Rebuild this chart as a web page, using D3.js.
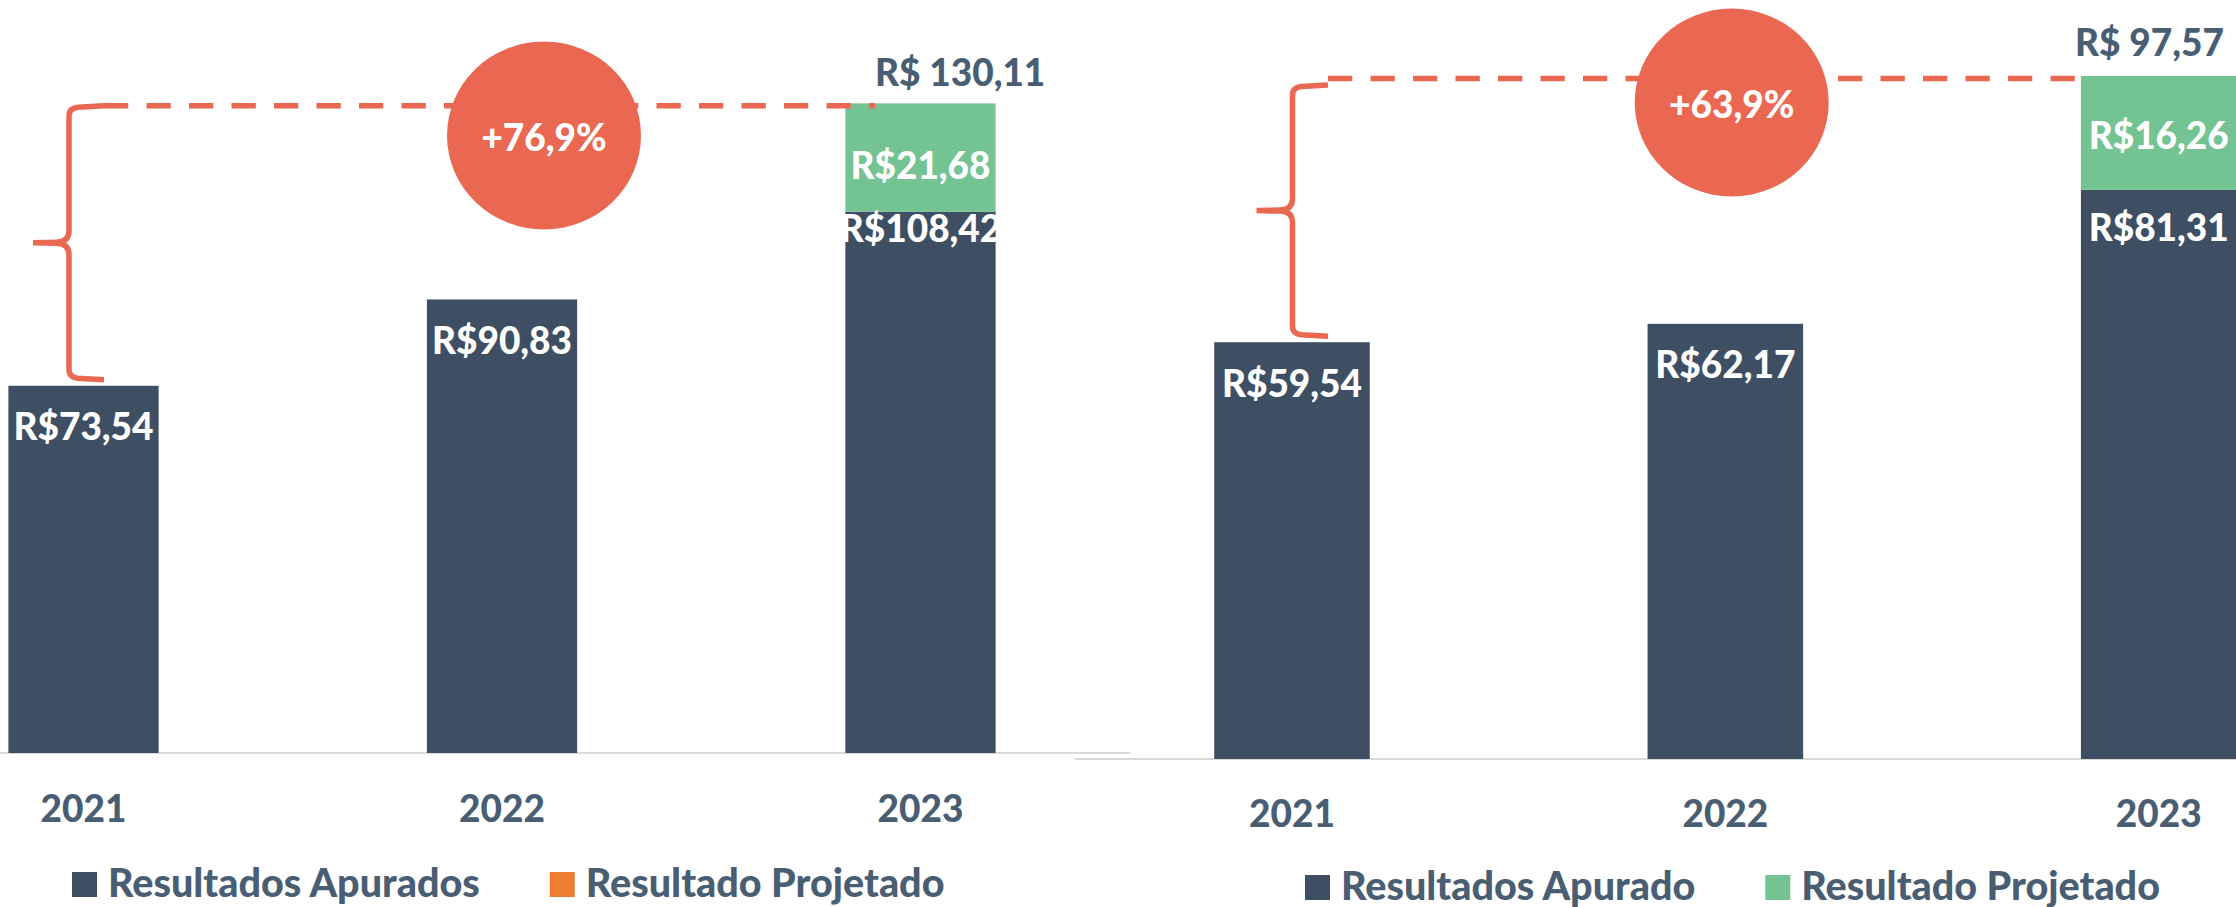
<!DOCTYPE html>
<html>

<head>
	<meta charset="utf-8">
	<title>Resultados Apurados x Projetado</title>
	<script src="https://cdn.jsdelivr.net/npm/d3@7/dist/d3.min.js"></script>
	<style>
		body {
			margin: 0;
			background: #fff;
		}

		svg text {
			font-family: Lato, "Open Sans", sans-serif;
			font-weight: 900;
		}

		.bar-label {
			fill: #fff;
			font-size: 37px;
		}

		.slate {
			fill: #4a5e73;
			font-size: 37px;
		}

		.legend text {
			font-size: 39.5px;
		}

		.baseline {
			stroke: #d9d9d9;
			stroke-width: 2px;
		}

		.note {
			fill: none;
			stroke: #ea6852;
			stroke-width: 5.5px;
		}
	</style>
</head>

<body>
	<svg id="chart" width="2236" height="907"></svg>

	<script>
		// data
		var years = ['2021', '2022', '2023'];

		var apuradosLeft = [73.54, 90.83, 108.42];
		var projetadoLeft = [0, 0, 21.68];
		var totalLeft = 130.11;
		var legendLeft = ['Resultados Apurados', 'Resultado Projetado'];

		var apuradosRight = [59.54, 62.17, 81.31];
		var projetadoRight = [0, 0, 16.26];
		var totalRight = 97.57;
		var legendRight = ['Resultados Apurado', 'Resultado Projetado'];

		var dark = '#3e4f63',
			green = '#73c393',
			red = '#ea6852';

		var br = d3.formatLocale({ decimal: ',', thousands: '.', grouping: [3], currency: ['R$', ''] });
		var money = br.format('.2f'),
			pct = br.format('+.1%');

		var svg = d3.select('#chart');

		// the two panels, each with its own plot area and hand placed notes
		var panels = [
			{
				apurados: apuradosLeft, projetado: projetadoLeft, total: totalLeft, legend: legendLeft,
				legendColors: [dark, '#ed7d31'],
				xRange: [-125.75, 1129.75], yMax: 150, yRange: [753, 4],
				lineX: [0, 1130], yearDy: 69,
				innerDy: [54, 55, 30], projDy: 21.7, totalX: 875, totalDy: -17,
				braceX: 69, braceEnd: 104, braceTopDy: 0,
				dashEnd: 875, circle: [544, 135.5],
				legendX: 72, legendY: 897
			},
			{
				apurados: apuradosRight, projetado: projetadoRight, total: totalRight, legend: legendRight,
				legendColors: [dark, green],
				xRange: [1075.3, 2375.4], yMax: 100, yRange: [759, 59],
				lineX: [1075, 2236], yearDy: 68,
				innerDy: [55, 54, 51], projDy: 16, totalX: 2075, totalDy: -20.5,
				braceX: 1292.5, braceEnd: 1328, braceTopDy: 6.5,
				dashEnd: 2075, circle: [1731.7, 102.5],
				legendX: 1305, legendY: 900
			}
		];

		panels.forEach(drawPanel);

		function drawPanel(p) {
			var rows = years.map((yr, i) => ({ year: yr, apurado: p.apurados[i], projetado: p.projetado[i] }));

			var x = d3.scaleBand()
				.domain(years)
				.range(p.xRange)
				.paddingInner(0.641)
				.paddingOuter(0.3205);

			var y = d3.scaleLinear()
				.domain([0, p.yMax])
				.range(p.yRange);

			var stacked = d3.stack().keys(['apurado', 'projetado'])(rows);
			var base = y(0);

			var g = svg.append('g');

			g.append('line')
				.attr('class', 'baseline')
				.attr('x1', p.lineX[0]).attr('x2', p.lineX[1])
				.attr('y1', base).attr('y2', base);

			g.selectAll('g.series')
				.data(stacked)
				.enter()
				.append('g')
				.attr('fill', (d, i) => i == 0 ? dark : green)
				.selectAll('rect')
				.data(d => d.filter(s => s[1] > s[0]))
				.enter()
				.append('rect')
				.attr('x', d => x(d.data.year))
				.attr('width', x.bandwidth())
				.attr('y', d => y(d[1]))
				.attr('height', d => y(d[0]) - y(d[1]));

			// labels inside the bars
			g.selectAll('text.apurado')
				.data(rows)
				.enter()
				.append('text')
				.attr('class', 'bar-label')
				.attr('text-anchor', 'middle')
				.attr('x', d => x(d.year) + x.bandwidth() / 2)
				.attr('y', (d, i) => y(d.apurado) + p.innerDy[i])
				.text(d => 'R$' + money(d.apurado));

			g.selectAll('text.projetado')
				.data(rows.filter(d => d.projetado > 0))
				.enter()
				.append('text')
				.attr('class', 'bar-label')
				.attr('text-anchor', 'middle')
				.attr('x', d => x(d.year) + x.bandwidth() / 2)
				.attr('y', d => (y(d.apurado) + y(d.apurado + d.projetado)) / 2 + p.projDy)
				.text(d => 'R$' + money(d.projetado));

			// total above the last bar
			var yTop = y(p.total);
			g.append('text')
				.attr('class', 'slate')
				.attr('x', p.totalX)
				.attr('y', yTop + p.totalDy)
				.text('R$ ' + money(p.total));

			// year axis
			var axis = d3.axisBottom(x).tickSize(0).tickPadding(0);
			var ax = g.append('g')
				.attr('transform', 'translate(0,' + (base + p.yearDy) + ')')
				.call(axis);
			ax.select('.domain').remove();
			ax.selectAll('text')
				.attr('class', 'slate')
				.attr('dy', null)
				.attr('fill', null);

			// growth note: brace, dashed line and circle
			var dashY = yTop + 2.5;
			var t = dashY + p.braceTopDy,
				b = y(p.apurados[0]) - 6,
				m = (t + b) / 2,
				bx = p.braceX,
				e = p.braceEnd,
				tip = bx - 36;

			var brace = d3.path();
			brace.moveTo(e, t);
			brace.lineTo(bx + 9, t + 1.5);
			brace.quadraticCurveTo(bx, t + 2.5, bx, t + 10);
			brace.lineTo(bx, m - 12);
			brace.quadraticCurveTo(bx, m - 1, bx - 12, m - 0.5);
			brace.lineTo(tip, m);
			brace.moveTo(tip, m);
			brace.lineTo(bx - 12, m + 0.5);
			brace.quadraticCurveTo(bx, m + 1, bx, m + 12);
			brace.lineTo(bx, b - 10);
			brace.quadraticCurveTo(bx, b - 2.5, bx + 9, b - 1.5);
			brace.lineTo(e, b);

			g.append('path')
				.attr('class', 'note')
				.attr('d', brace.toString());

			g.append('line')
				.attr('class', 'note')
				.attr('stroke-width', 6)
				.attr('stroke-dasharray', '24.3,18.2')
				.attr('x1', p.braceEnd).attr('x2', p.dashEnd)
				.attr('y1', dashY).attr('y2', dashY);

			g.append('ellipse')
				.attr('cx', p.circle[0]).attr('cy', p.circle[1])
				.attr('rx', 97).attr('ry', 94)
				.attr('fill', red);

			g.append('text')
				.attr('class', 'bar-label')
				.attr('text-anchor', 'middle')
				.attr('x', p.circle[0])
				.attr('y', p.circle[1] + 15)
				.text(pct(p.total / p.apurados[0] - 1));

			// legend
			var leg = g.append('g')
				.attr('class', 'legend')
				.attr('transform', 'translate(' + p.legendX + ',0)');
			var items = leg.selectAll('g')
				.data(p.legend)
				.enter()
				.append('g');
			items.append('rect')
				.attr('width', 25).attr('height', 25)
				.attr('y', p.legendY - 25)
				.attr('fill', (d, i) => p.legendColors[i]);
			items.append('text')
				.attr('class', 'slate')
				.attr('x', 36)
				.attr('y', p.legendY)
				.text(d => d);

			var cursor = 0;
			items.each(function () {
				var w = 36 + d3.select(this).select('text').node().getComputedTextLength();
				d3.select(this).attr('transform', 'translate(' + cursor + ',0)');
				cursor += w + 70;
			});
		}
	</script>
</body>

</html>
